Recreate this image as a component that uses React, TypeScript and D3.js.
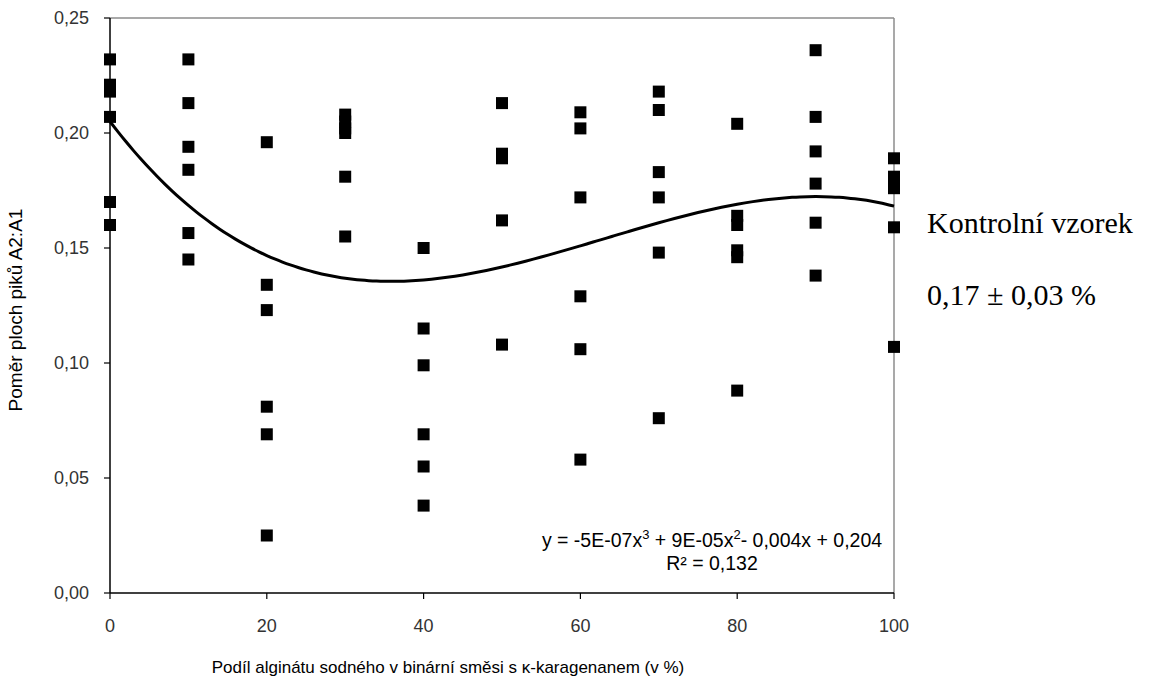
import React from "react";
import * as d3 from "d3";

const xCategories = [0, 10, 20, 30, 40, 50, 60, 70, 80, 90, 100];
const v0 = [0.232, 0.221, 0.218, 0.207, 0.170, 0.160];
const v10 = [0.232, 0.213, 0.194, 0.184, 0.1565, 0.145];
const v20 = [0.196, 0.134, 0.123, 0.081, 0.069, 0.025];
const v30 = [0.208, 0.205, 0.202, 0.200, 0.181, 0.155];
const v40 = [0.150, 0.115, 0.099, 0.069, 0.055, 0.038];
const v50 = [0.213, 0.191, 0.189, 0.162, 0.108];
const v60 = [0.209, 0.202, 0.172, 0.129, 0.106, 0.058];
const v70 = [0.218, 0.210, 0.183, 0.172, 0.148, 0.076];
const v80 = [0.204, 0.164, 0.160, 0.149, 0.146, 0.088];
const v90 = [0.236, 0.207, 0.192, 0.178, 0.161, 0.138];
const v100 = [0.189, 0.181, 0.178, 0.176, 0.159, 0.107];
const seriesValues = [v0, v10, v20, v30, v40, v50, v60, v70, v80, v90, v100];

const yTicks = [0, 0.05, 0.1, 0.15, 0.2, 0.25];
const xTicks = [0, 20, 40, 60, 80, 100];

const yTitle = "Poměr ploch piků A2:A1";
const xTitle = "Podíl alginátu sodného v binární směsi s κ-karagenanem (v %)";
const note1 = "Kontrolní vzorek";
const note2 = "0,17 ± 0,03 %";

function fitCubic(pts: [number, number][]) {
  const n = 4;
  const A = Array.from({ length: n }, () => new Array(n + 1).fill(0));
  for (const [x, y] of pts) {
    const t = x / 100;
    const p = [1, t, t * t, t * t * t];
    for (let i = 0; i < n; i++) {
      for (let j = 0; j < n; j++) A[i][j] += p[i] * p[j];
      A[i][n] += p[i] * y;
    }
  }
  for (let c = 0; c < n; c++) {
    let piv = c;
    for (let r = c + 1; r < n; r++) if (Math.abs(A[r][c]) > Math.abs(A[piv][c])) piv = r;
    [A[c], A[piv]] = [A[piv], A[c]];
    for (let r = 0; r < n; r++) {
      if (r === c) continue;
      const f = A[r][c] / A[c][c];
      for (let k = c; k <= n; k++) A[r][k] -= f * A[c][k];
    }
  }
  const coef = A.map((row, i) => row[n] / row[i]);
  return (x: number) => {
    const t = x / 100;
    return coef[0] + coef[1] * t + coef[2] * t * t + coef[3] * t * t * t;
  };
}

export default function App() {
  const width = 1159;
  const height = 686;
  const left = 110, right = 894, top = 18, bottom = 593;
  const x = d3.scaleLinear().domain([0, 100]).range([left, right]);
  const y = d3.scaleLinear().domain([0, 0.25]).range([bottom, top]);
  const fmt = (v: number) => d3.format(".2f")(v).replace(".", ",");

  const points: [number, number][] = [];
  xCategories.forEach((c, i) => seriesValues[i].forEach((v) => points.push([c, v])));
  const f = fitCubic(points);
  const curvePts: [number, number][] = d3.range(0, 100.01, 1).map((xv) => [xv, f(xv)]);
  const line = d3.line<[number, number]>().x((d) => x(d[0])).y((d) => y(d[1])).curve(d3.curveBasis);

  const sans = "'Liberation Sans', Arial, sans-serif";
  const serif = "'Liberation Serif', 'Times New Roman', serif";
  const ms = 12;

  return (
    <svg width={width} height={height} style={{ position: "absolute", left: 0, top: 0, background: "#fff" }}>
      <rect x={0} y={0} width={width} height={height} fill="#fff" />
      <line x1={left} y1={top} x2={right} y2={top} stroke="#8c8c8c" strokeWidth={1.5} />
      <line x1={right} y1={top} x2={right} y2={bottom} stroke="#8c8c8c" strokeWidth={1.5} />
      <path d={line(curvePts) || ""} fill="none" stroke="#000" strokeWidth={3} />
      {points.map(([c, v], i) => (
        <rect key={i} x={x(c) - ms / 2} y={y(v) - ms / 2} width={ms} height={ms} fill="#000" />
      ))}
      <line x1={left} y1={top} x2={left} y2={bottom} stroke="#000" strokeWidth={1.5} />
      <line x1={left} y1={bottom} x2={right} y2={bottom} stroke="#000" strokeWidth={1.5} />
      {yTicks.map((t) => (
        <g key={"y" + t}>
          <line x1={left - 6} x2={left} y1={y(t)} y2={y(t)} stroke="#000" strokeWidth={1.2} />
          <text x={89} y={y(t)} dy="0.35em" textAnchor="end" fontFamily={sans} fontSize={18} fill="#333">
            {fmt(t)}
          </text>
        </g>
      ))}
      {xTicks.map((t) => (
        <g key={"x" + t}>
          <line x1={x(t)} x2={x(t)} y1={bottom} y2={bottom + 6} stroke="#000" strokeWidth={1.2} />
          <text x={x(t)} y={632} textAnchor="middle" fontFamily={sans} fontSize={18} fill="#333">
            {t}
          </text>
        </g>
      ))}
      <text x={712} y={547} textAnchor="middle" fontFamily={sans} fontSize={19.5} fill="#000">
        y = -5E-07x<tspan dy={-8} fontSize={13}>3</tspan>
        <tspan dy={8}> + 9E-05x</tspan>
        <tspan dy={-8} fontSize={13}>2</tspan>
        <tspan dy={8}>- 0,004x + 0,204</tspan>
      </text>
      <text x={712} y={570} textAnchor="middle" fontFamily={sans} fontSize={19.5} fill="#000">
        R² = 0,132
      </text>
      <text x={448} y={673} textAnchor="middle" fontFamily={sans} fontSize={17} fill="#000">
        {xTitle}
      </text>
      <text transform={`translate(22,310) rotate(-90)`} textAnchor="middle" fontFamily={sans} fontSize={19} fill="#000">
        {yTitle}
      </text>
      <text x={927} y={233} fontFamily={serif} fontSize={30} fill="#000">{note1}</text>
      <text x={927} y={305} fontFamily={serif} fontSize={30} fill="#000">{note2}</text>
    </svg>
  );
}
